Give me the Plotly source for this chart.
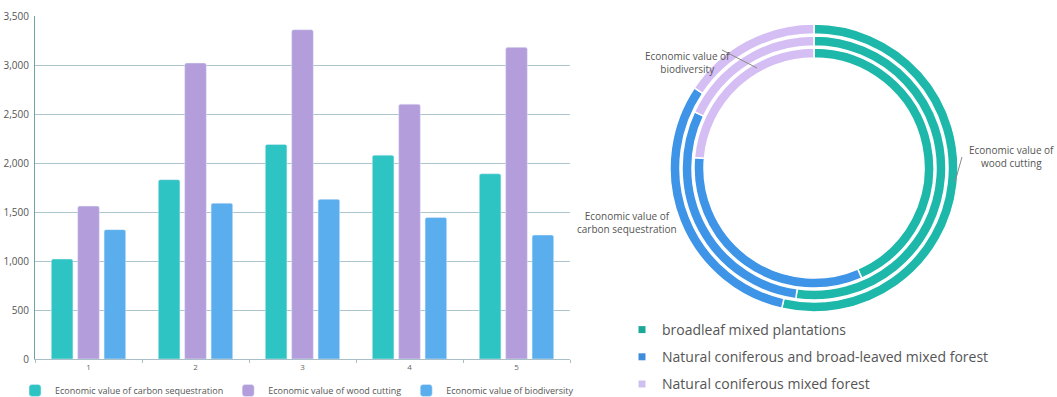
import plotly.graph_objects as go

W, H = 1057, 397

# ---- bar chart data ----
groups = ["1", "2", "3", "4", "5"]
carbon = [1020, 1830, 2190, 2080, 1890]
wood = [1560, 3020, 3360, 2600, 3180]
biodiv = [1320, 1590, 1630, 1445, 1265]
bar_names = ["Economic value of carbon sequestration",
             "Economic value of wood cutting",
             "Economic value of biodiversity"]
bar_colors = ["#2EC4C4", "#B39DDB", "#5AAEEE"]
y_ticks = [0, 500, 1000, 1500, 2000, 2500, 3000, 3500]

# ---- donut data (share in %, outer -> inner ring) ----
forest_types = ["broadleaf mixed plantations",
                "Natural coniferous and broad-leaved mixed forest",
                "Natural coniferous mixed forest"]
ring_outer = [53.6, 30.8, 15.6]
ring_middle = [52.2, 29.8, 18.0]
ring_inner = [43.5, 32.9, 23.6]
donut_colors = ["#1DB8A9", "#3E94E6", "#D5BEF4"]
legend_colors = ["#1AA899", "#3D8DDC", "#CFC0EE"]

fig = go.Figure()

for name, vals, col in zip(bar_names, [carbon, wood, biodiv], bar_colors):
    fig.add_trace(go.Bar(x=groups, y=vals, name=name, marker_color=col,
                         marker_cornerradius=2, legend="legend"))

# donut rings
cx, cy = 814, 168
rings = [(144, 134, ring_outer), (132, 122, ring_middle), (120, 110, ring_inner)]
for r_out, r_in, vals in rings:
    fig.add_trace(go.Pie(
        labels=forest_types, values=vals, sort=False, direction="clockwise",
        rotation=0, hole=r_in / r_out, textinfo="none", showlegend=False,
        hoverinfo="label+percent",
        marker=dict(colors=donut_colors, line=dict(color="white", width=1.5)),
        domain=dict(x=[(cx - r_out) / W, (cx + r_out) / W],
                    y=[1 - (cy + r_out) / H, 1 - (cy - r_out) / H]),
    ))

# legend entries for donut
for name, col in zip(forest_types, legend_colors):
    fig.add_trace(go.Scatter(x=[None], y=[None], mode="markers", name=name,
                             marker=dict(symbol="square", size=7, color=col),
                             legend="legend2", legendgroup=name))

fig.update_layout(
    width=W, height=H,
    margin=dict(l=0, r=0, t=0, b=0, autoexpand=False),
    paper_bgcolor="white", plot_bgcolor="white",
    font=dict(family="Open Sans", color="#555555"),
    barmode="group", bargap=0.26, bargroupgap=0.18,
    xaxis=dict(domain=[35 / W, 570 / W], type="category", automargin=False,
               showline=True, linecolor="#A9BFC8", linewidth=1,
               ticks="outside", tickson="boundaries", ticklen=3, tickcolor="#A9BFC8",
               tickfont=dict(size=8, color="#666666"), showgrid=False),
    yaxis=dict(domain=[1 - 359 / H, 1 - 16 / H], range=[0, 3500], automargin=False,
               tickvals=y_ticks, tickformat=",",
               showline=True, linecolor="#6FA3A3", linewidth=1,
               gridcolor="#ADC5CF", gridwidth=1, zeroline=False,
               tickfont=dict(size=10, color="#555555"), ticks="", ticklabelstandoff=3),
    legend=dict(orientation="h", x=0.281, xanchor="center", y=-0.02, yanchor="bottom",
                font=dict(size=9, color="#555555"), itemwidth=30,
                bgcolor="rgba(0,0,0,0)"),
    legend2=dict(orientation="v", x=622 / W, xanchor="left", y=1 - 314 / H, yanchor="top",
                 font=dict(size=14, color="#555555"), traceorder="grouped",
                 tracegroupgap=6, bgcolor="rgba(0,0,0,0)"),
)

ann_font = dict(size=10, color="#555555")
fig.add_annotation(x=687 / W, y=1 - 47 / H, xref="paper", yref="paper", xanchor="center",
                   text="Economic value of<br>biodiversity", showarrow=False, font=ann_font)
fig.add_annotation(x=1011 / W, y=1 - 157 / H, xref="paper", yref="paper", xanchor="center",
                   text="Economic value of<br>wood cutting", showarrow=False, font=ann_font)
fig.add_annotation(x=627 / W, y=1 - 222 / H, xref="paper", yref="paper", xanchor="center",
                   text="Economic value of<br>carbon sequestration", showarrow=False,
                   font=ann_font, align="center")
fig.add_shape(type="line", xref="paper", yref="paper",
              x0=722 / W, y0=1 - 50 / H, x1=757 / W, y1=1 - 68 / H,
              line=dict(color="#8A8A8A", width=1))
fig.add_shape(type="line", xref="paper", yref="paper",
              x0=962 / W, y0=1 - 157 / H, x1=955 / W, y1=1 - 182 / H,
              line=dict(color="#8A8A8A", width=1))

fig.write_html("out.html")
